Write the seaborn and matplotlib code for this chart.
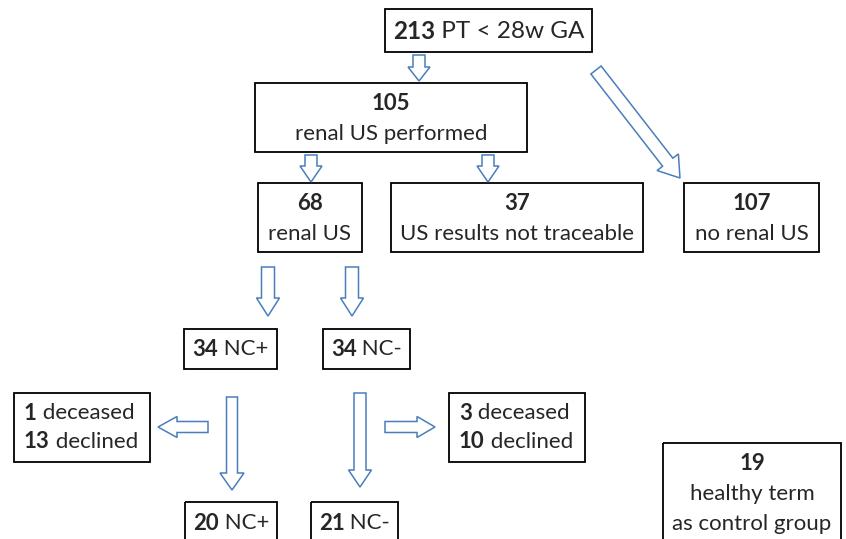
import matplotlib
matplotlib.use("Agg")
import matplotlib.pyplot as plt
from matplotlib.patches import Rectangle, FancyArrow
import seaborn as sns

# flow chart numbers and labels
box_counts = [213, 105, 68, 37, 107, 34, 34, 19, 20, 21]
box_labels = ["PT < 28w GA", "renal US performed", "renal US", "US results not traceable",
              "no renal US", "NC+", "NC-", "healthy term\nas control group", "NC+", "NC-"]
inline = [True, False, False, False, False, True, True, False, True, True]  # number on same line as label
lost_deceased = [1, 3]
lost_declined = [13, 10]

# box geometry in pixels (x0, y0, x1, y1)
boxes = [(385, 9, 592, 52), (255, 83, 527, 152), (258, 183, 362, 252), (391, 183, 643, 252),
         (684, 183, 819, 252), (184, 329, 277, 369), (323, 329, 410, 369), (663, 443, 841, 545),
         (185, 502, 277, 545), (311, 502, 398, 545)]
lost_boxes = [(14, 393, 150, 462), (449, 393, 585, 462)]

# arrows: x, y, dx, dy, shaft width, head width, head length
arrows = [(419, 55, 0, 26, 12, 22, 14), (311, 155, 0, 27, 12, 22, 16), (488, 155, 0, 27, 12, 22, 16),
          (268, 267, 0, 49, 13, 23, 18), (352, 267, 0, 49, 13, 23, 18),
          (208, 427, -50, 0, 11, 21, 19), (385, 427, 50, 0, 11, 21, 18),
          (232, 397, 0, 93, 11, 24, 17), (360, 393, 0, 94, 12, 23, 17),
          (596, 70, 84, 108, 13, 27, 20)]

sns.set_theme(style="white")
plt.rcParams['font.family'] = ['Lato', 'DejaVu Sans']
FS = 16
BLUE = "#4a7ebb"

fig = plt.figure(figsize=(8.46, 5.39), dpi=100)
ax = fig.add_axes([0, 0, 1, 1])
ax.set_xlim(0, 846)
ax.set_ylim(539, 0)
ax.axis("off")
fig.canvas.draw()
renderer = fig.canvas.get_renderer()


def width_px(s, bold, fs):
    t = ax.text(0, 0, s, fontsize=fs, fontweight="bold" if bold else "normal")
    w = t.get_window_extent(renderer).width
    t.remove()
    return w


def mixed_line(cx, cy, parts, fs=FS, align="center", x0=None):
    # parts: list of (text, bold)
    widths = [width_px(s, b, fs) for s, b in parts]
    x = cx - sum(widths) / 2 if align == "center" else x0
    for (s, b), w in zip(parts, widths):
        ax.text(x, cy, s, fontsize=fs, fontweight="bold" if b else "normal", ha="left", va="center")
        x += w


for (x0, y0, x1, y1) in boxes + lost_boxes:
    ax.add_patch(Rectangle((x0, y0), x1 - x0, y1 - y0, fill=False, ec="black", lw=1.3))

for i, (n, lab, inl, (x0, y0, x1, y1)) in enumerate(zip(box_counts, box_labels, inline, boxes)):
    cx = (x0 + x1) / 2
    if i == 0:
        mixed_line(cx, (y0 + y1) / 2 + 1, [(str(n), True), (" " + lab, False)], fs=17.5)
    elif inl:
        mixed_line(cx, min(y0 + 20, (y0 + y1) / 2 + 1) if i < 8 else y0 + 21,
                   [(str(n), True), (" " + lab, False)])
    else:
        ax.text(cx, y0 + 21, str(n), fontsize=FS, fontweight="bold", ha="center", va="center")
        for k, ln in enumerate(lab.split("\n")):
            ax.text(cx, y0 + 51 + 30 * k, ln, fontsize=FS, ha="center", va="center")

for (x0, y0, x1, y1), d, c in zip(lost_boxes, lost_deceased, lost_declined):
    mixed_line(0, y0 + 20, [(str(d), True), (" deceased", False)], align="left", x0=x0 + 10)
    mixed_line(0, y0 + 49, [(str(c), True), (" declined", False)], align="left", x0=x0 + 10)

for (x, y, dx, dy, w, hw, hl) in arrows:
    ax.add_patch(FancyArrow(x, y, dx, dy, width=w, head_width=hw, head_length=hl,
                            length_includes_head=True, fc="white", ec=BLUE, lw=1.1))

fig.savefig("out.png", dpi=100)
